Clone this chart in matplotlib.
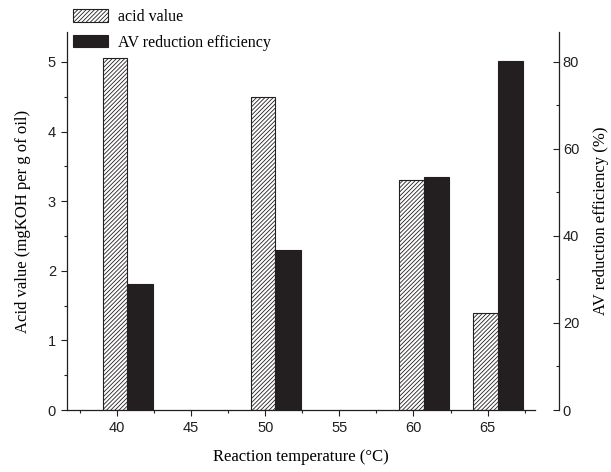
import matplotlib
matplotlib.use('Agg')
import matplotlib.pyplot as plt
from matplotlib.ticker import MultipleLocator

temps = [40, 50, 60, 65]
acid_value = [5.05, 4.49, 3.30, 1.40]
av_efficiency = [28.9, 36.8, 53.6, 80.3]

plt.rcParams['hatch.linewidth'] = 0.6
serif = 'Liberation Serif'
sans = 'Liberation Sans'

fig = plt.figure(figsize=(6.11, 4.72), dpi=100)
ax = fig.add_axes([67 / 611, 1 - 410 / 472, 468 / 611, 378 / 472])
ax2 = ax.twinx()

# bars: hatched on left axis, solid on right axis
ax.bar([t - 0.95 for t in temps], acid_value, width=1.63, align='edge',
       color='white', edgecolor='#231f20', hatch='////////', linewidth=0.8,
       label='acid value')
ax2.bar([t + 0.68 for t in temps], av_efficiency, width=1.74, align='edge',
        color='#231f20', edgecolor='#231f20', linewidth=0.8,
        label='AV reduction efficiency')

ax.set_xlim(36.63, 68.2)
ax.set_ylim(0, 5.43)
ax2.set_ylim(0, 5.43 * 16)

ax.xaxis.set_major_locator(MultipleLocator(5))
ax.xaxis.set_minor_locator(MultipleLocator(2.5))
ax.yaxis.set_major_locator(MultipleLocator(1))
ax.yaxis.set_minor_locator(MultipleLocator(0.5))
ax2.yaxis.set_major_locator(MultipleLocator(20))
ax2.yaxis.set_minor_locator(MultipleLocator(10))

for a in (ax, ax2):
    a.spines['top'].set_visible(False)
    for s in a.spines.values():
        s.set_color('#231f20')
        s.set_linewidth(0.9)
ax.spines['right'].set_visible(False)
ax2.spines['left'].set_visible(False)
ax2.spines['bottom'].set_visible(False)
ax2.spines['right'].set_position(('outward', 17))

ax.tick_params(which='major', direction='out', length=4.5, width=0.8,
               labelsize=10.5, colors='#231f20')
ax.tick_params(which='minor', direction='out', length=2.5, width=0.8,
               colors='#231f20')
ax2.tick_params(which='major', direction='in', length=4.5, width=0.8,
                labelsize=10.5, colors='#231f20', pad=3)
ax2.tick_params(which='minor', direction='in', length=2.5, width=0.8,
                colors='#231f20')
for lbl in ax.get_xticklabels() + ax.get_yticklabels() + ax2.get_yticklabels():
    lbl.set_fontfamily(sans)

ax.set_xlabel('Reaction temperature (°C)', fontfamily=serif, fontsize=12,
              labelpad=10)
ax.set_ylabel('Acid value (mgKOH per g of oil)', fontfamily=serif,
              fontsize=12, labelpad=12)
ax2.set_ylabel('AV reduction efficiency (%)', fontfamily=serif, fontsize=12,
               labelpad=10)

h1, l1 = ax.get_legend_handles_labels()
h2, l2 = ax2.get_legend_handles_labels()
fig.legend(h1 + h2, l1 + l2, loc='upper left',
           bbox_to_anchor=(73 / 611, 1 - 9 / 472), frameon=False,
           borderpad=0, borderaxespad=0, handlelength=2.2, handleheight=0.8,
           handletextpad=0.6, labelspacing=0.6,
           prop={'family': serif, 'size': 11.5})

fig.savefig('out.png', dpi=100)
